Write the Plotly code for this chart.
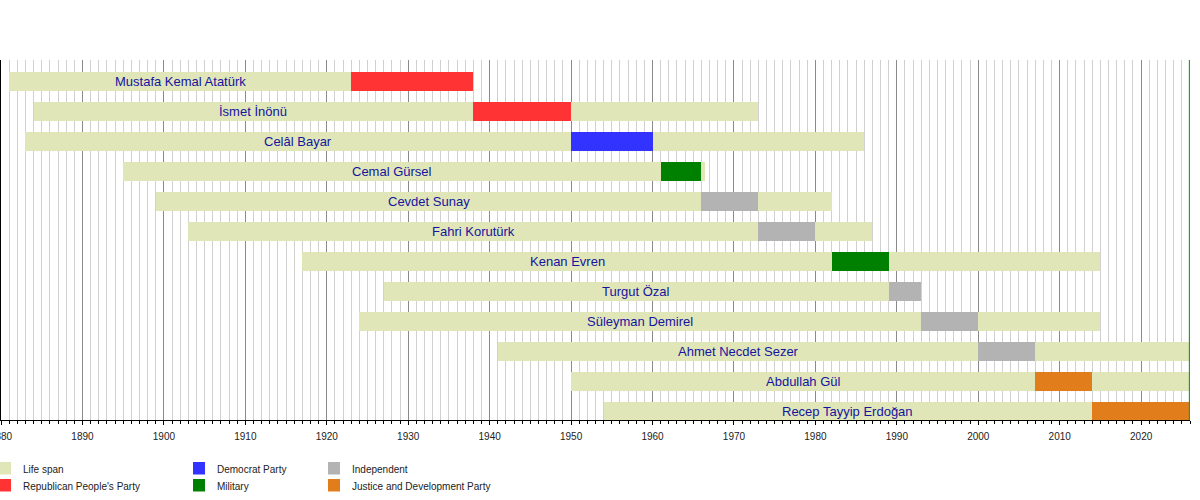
import plotly.graph_objects as go

# Presidents of Turkey: life span and term in office (years)
names = [
    "Mustafa Kemal Atatürk", "İsmet İnönü", "Celâl Bayar", "Cemal Gürsel",
    "Cevdet Sunay", "Fahri Korutürk", "Kenan Evren", "Turgut Özal",
    "Süleyman Demirel", "Ahmet Necdet Sezer", "Abdullah Gül", "Recep Tayyip Erdoğan",
]
born = [1881, 1884, 1883, 1895, 1899, 1903, 1917, 1927, 1924, 1941, 1950, 1954]
died = [1938, 1973, 1986, 1966.4, 1982, 1987, 2015, 1993, 2015, None, None, None]
term_start = [1923, 1938, 1950, 1961, 1966, 1973, 1982, 1989, 1993, 2000, 2007, 2014]
term_end = [1938, 1950, 1960, 1966, 1973, 1980, 1989, 1993, 2000, 2007, 2014, None]
party = [
    "Republican People's Party", "Republican People's Party", "Democrat Party",
    "Military", "Independent", "Independent", "Military", "Independent",
    "Independent", "Independent", "Justice and Development Party",
    "Justice and Development Party",
]

now_year = 2026.0
axis_start = 1880

legend_labels = ["Life span", "Republican People's Party", "Democrat Party",
                 "Military", "Independent", "Justice and Development Party"]
legend_colors = ["#e0e6b8", "#ff3333", "#3333ff", "#008000", "#b3b3b3", "#e27d1c"]
color_of = dict(zip(legend_labels, legend_colors))

# page geometry (pixels) -> paper coords
W, H = 1200, 500
M_L, M_R, M_T, M_B = 1, 10, 60, 80
PW, PH = W - M_L - M_R, H - M_T - M_B


def px_x(px):
    return (px - M_L) / PW


def px_y(py):
    return (H - M_B - py) / PH


rows = list(range(len(names)))
end_life = [d if d is not None else now_year for d in died]
end_term = [e if e is not None else now_year for e in term_end]

fig = go.Figure()

# life span bars
fig.add_trace(go.Bar(
    y=rows, base=born, x=[e - b for b, e in zip(born, end_life)],
    orientation="h", width=0.62,
    marker=dict(color=color_of["Life span"], line=dict(width=0)),
    hoverinfo="skip", showlegend=False,
))

# terms, one trace per party
for p in legend_labels[1:]:
    idx = [i for i in rows if party[i] == p]
    if not idx:
        continue
    fig.add_trace(go.Bar(
        y=[rows[i] for i in idx],
        base=[term_start[i] for i in idx],
        x=[end_term[i] - term_start[i] for i in idx],
        orientation="h", width=0.62,
        marker=dict(color=color_of[p], line=dict(width=0)),
        name=p, hoverinfo="skip", showlegend=False,
    ))

# name labels, centred between birth and start of term
for i in rows:
    fig.add_annotation(
        x=(born[i] + term_start[i]) / 2, y=rows[i], xref="x", yref="y",
        text=names[i], showarrow=False, xanchor="center", yanchor="middle",
        font=dict(family="Liberation Sans, Arial, sans-serif", size=13, color="#1414a0"),
    )

# "now" marker (a hair inside the axis end so it is not clipped)
fig.add_shape(type="line", xref="x", yref="paper", x0=now_year - 0.05, x1=now_year - 0.05,
              y0=0, y1=1, line=dict(color="#1fa01f", width=1.5), layer="above")

# legend: 3 columns x 2 rows
col_px = [0, 194, 329]
row_px = [462, 479]
for k, (lab, col) in enumerate(zip(legend_labels, legend_colors)):
    cx = col_px[k // 2]
    ry = row_px[k % 2]
    fig.add_shape(type="rect", xref="paper", yref="paper",
                  x0=px_x(cx - 1), x1=px_x(cx + 11), y0=px_y(ry), y1=px_y(ry + 12.5),
                  fillcolor=col, line=dict(width=0), layer="above")
    fig.add_annotation(
        x=px_x(cx + 21), y=px_y(ry + 7.5), xref="paper", yref="paper",
        text=lab, showarrow=False, xanchor="left", yanchor="middle",
        font=dict(family="Liberation Sans, Arial, sans-serif", size=10, color="#222222"),
    )

fig.update_xaxes(
    range=[axis_start, now_year], dtick=10, tick0=axis_start,
    showgrid=True, gridcolor="#8a8a8a", gridwidth=1,
    minor=dict(dtick=1, tick0=axis_start, showgrid=True, gridcolor="#d0d0d0",
               gridwidth=1, ticks="outside", ticklen=3, tickcolor="black"),
    ticks="outside", ticklen=4, tickcolor="black",
    showline=True, linecolor="black", linewidth=1,
    zeroline=False, ticklabeloverflow="allow", automargin=False,
    ticklabelstandoff=3,
    tickfont=dict(family="Liberation Sans, Arial, sans-serif", size=10, color="#222222"),
)
fig.update_yaxes(
    range=[11.293, -0.707], showgrid=False, zeroline=False,
    showticklabels=False, ticks="", showline=True, linecolor="black",
    linewidth=1, automargin=False,
)

fig.update_layout(
    width=W, height=H,
    margin=dict(l=M_L, r=M_R, t=M_T, b=M_B),
    paper_bgcolor="white", plot_bgcolor="white",
    barmode="overlay", bargap=0,
    showlegend=False,
)

# drop the browser's default 8px body margin so the figure sits at the page corner
fig.write_html("out.html", config={"displayModeBar": False},
               post_script="document.body.style.margin = '0';")
